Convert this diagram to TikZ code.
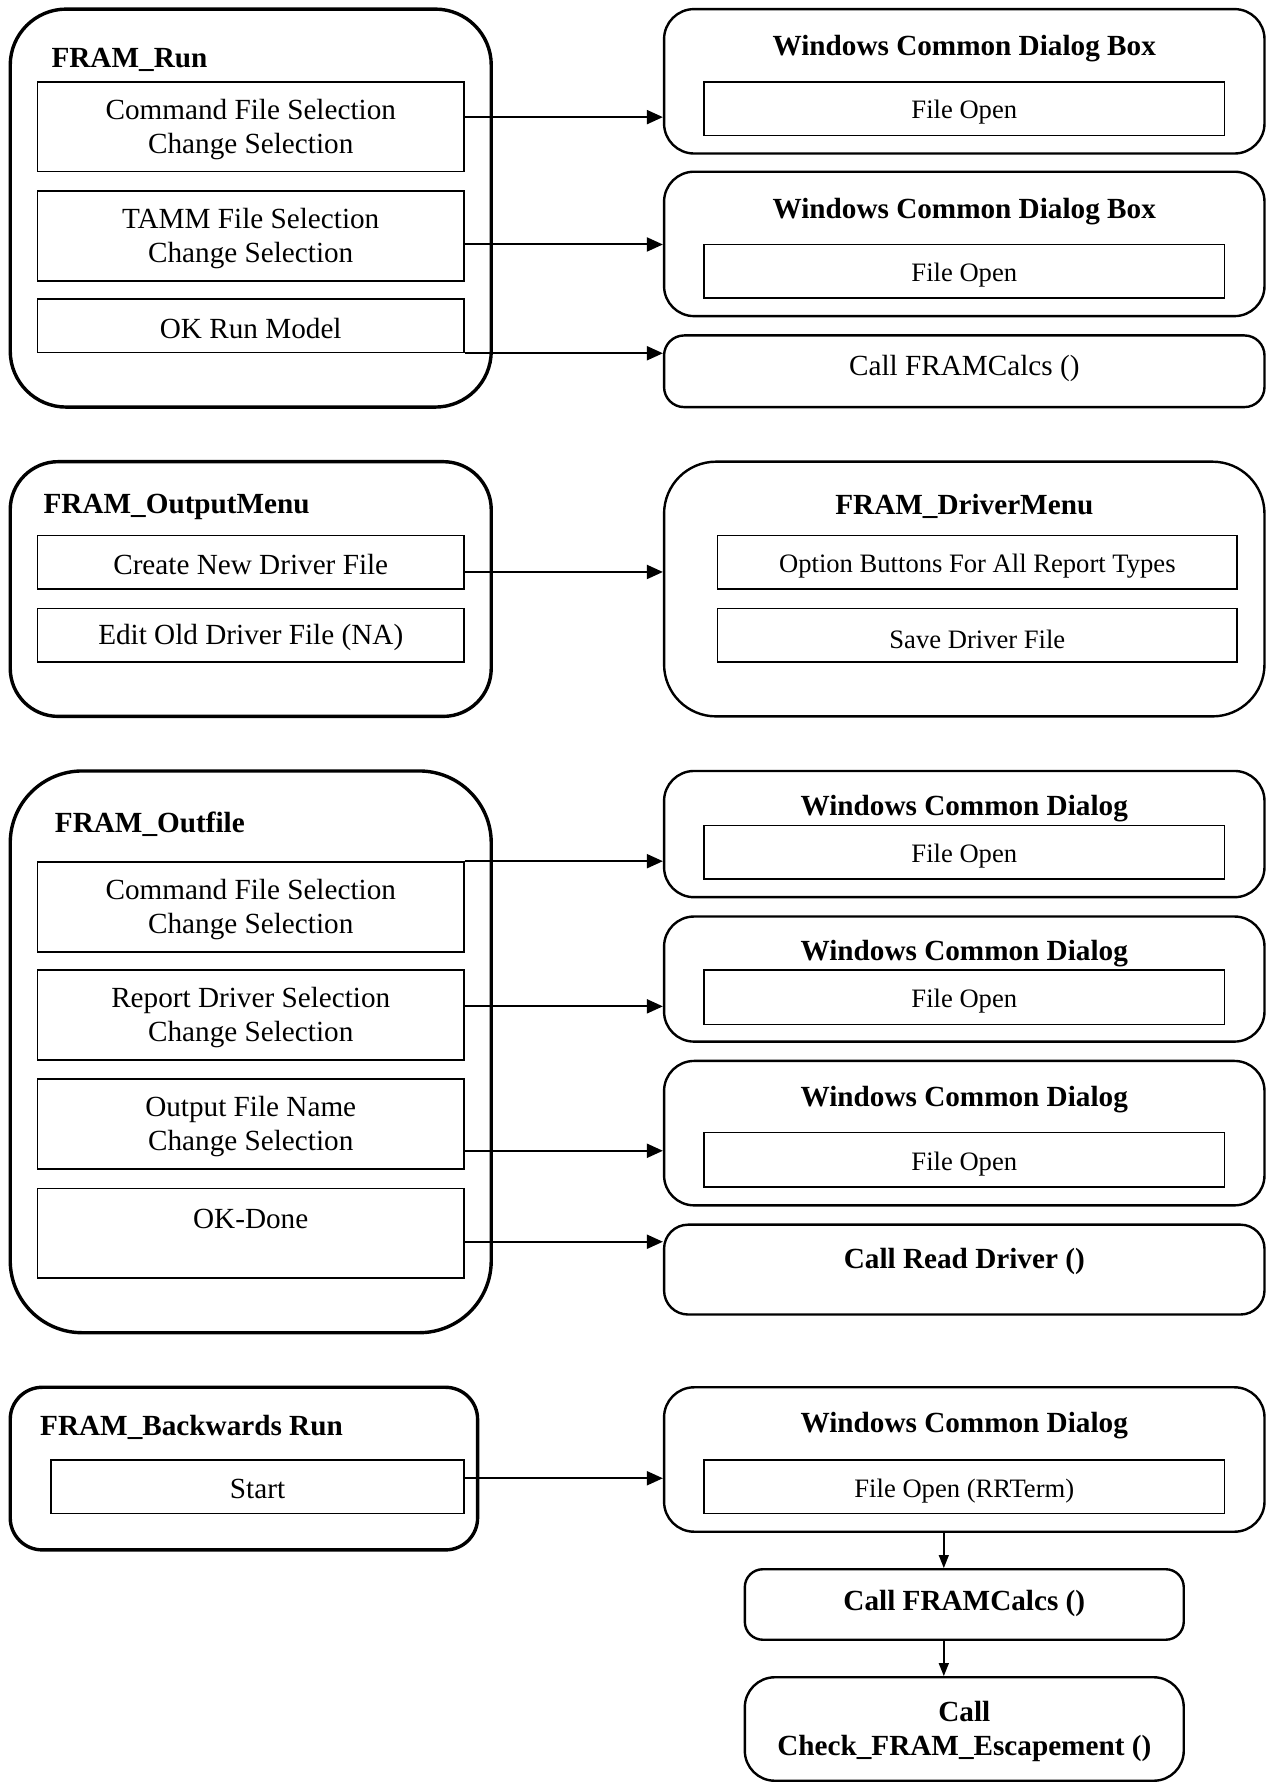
\documentclass[tikz,border=0pt]{standalone}
\usepackage{fontspec}
\setmainfont{Liberation Serif}
\usetikzlibrary{arrows.meta,fit}
\tikzset{
  x=0.5685pt, y=-0.5685pt,
  outerL/.style={draw, line width=1.7pt, rounded corners=#1, inner sep=0pt},
  outerR/.style={draw, line width=1.2pt, rounded corners=#1, inner sep=0pt},
  inbox/.style={draw, line width=0.75pt, inner sep=0pt},
  ttl/.style={inner sep=0pt, yshift=-1.7pt, font=\fontsize{14.6}{17}\selectfont\bfseries, align=center},
  txt/.style={inner sep=0pt, yshift=-1.2pt, font=\fontsize{14.6}{17}\selectfont, align=center},
  txts/.style={inner sep=0pt, yshift=-2pt, font=\fontsize{13.3}{16}\selectfont, align=center},
  arr/.style={line width=1pt, -{Triangle[length=8pt,width=7pt]}},
  arrs/.style={line width=0.75pt, -{Triangle[length=6.5pt,width=5pt]}}
}
\begin{document}
\begin{tikzpicture}
\useasboundingbox (0,0) rectangle (1117,1568);
% ---------- Section 1 ----------
\node[outerL=28pt, fit={(9,8)(432,358)}] (run) {};
\node[ttl, anchor=west] (runT) at (45,50) {FRAM\_Run};
\node[inbox, fit={(33,72)(408,151)}] (r1) {};
\node[txt] (r1t) at (r1.center) {Command File Selection\\Change Selection};
\node[inbox, fit={(33,168)(408,247)}] (r2) {};
\node[txt] (r2t) at (r2.center) {TAMM File Selection\\Change Selection};
\node[inbox, fit={(33,263)(408,310)}] (r3) {};
\node[txt] (r3t) at (r3.center) {OK Run Model};
\node[outerR=15pt, fit={(584,8)(1112,135)}] (w1) {};
\node[ttl] (w1T) at (848,40) {Windows Common Dialog Box};
\node[inbox, fit={(619,72)(1077,119)}] (w1f) {};
\node[txts] (w1ft) at (w1f.center) {File Open};
\node[outerR=15pt, fit={(584,151)(1112,278)}] (w2) {};
\node[ttl] (w2T) at (848,183) {Windows Common Dialog Box};
\node[inbox, fit={(619,215)(1077,262)}] (w2f) {};
\node[txts] (w2ft) at (w2f.center) {File Open};
\node[outerR=10pt, fit={(584,295)(1112,358)}] (c1) {};
\node[txt] (c1t) at (848,322) {Call FRAMCalcs ()};
\draw[arr] (r1.east |- 0,103) -- (w1.west |- 0,103);
\draw[arr] (r2.east |- 0,215) -- (w2.west |- 0,215);
\draw[arr] (r3.south east) -- (r3.south east -| c1.west);
% ---------- Section 2 ----------
\node[outerL=24pt, fit={(9,406)(432,630)}] (om) {};
\node[ttl, anchor=west] (omT) at (38,443) {FRAM\_OutputMenu};
\node[inbox, fit={(33,471)(408,518)}] (om1) {};
\node[txt] (om1t) at (om1.center) {Create New Driver File};
\node[inbox, fit={(33,535)(408,582)}] (om2) {};
\node[txt] (om2t) at (om2.center) {Edit Old Driver File (NA)};
\node[outerR=26pt, fit={(584,406)(1112,630)}] (dm) {};
\node[ttl] (dmT) at (848,442) {FRAM\_DriverMenu};
\node[inbox, fit={(631,471)(1088,518)}] (dm1) {};
\node[txts] (dm1t) at (dm1.center) {Option Buttons For All Report Types};
\node[inbox, fit={(631,535)(1088,582)}] (dm2) {};
\node[txts] (dm2t) at (dm2.center) {Save Driver File};
\draw[arr] (om1.east |- 0,503) -- (dm.west |- 0,503);
% ---------- Section 3 ----------
\node[outerL=36pt, fit={(9,678)(432,1172)}] (of) {};
\node[ttl, anchor=west] (ofT) at (48,722) {FRAM\_Outfile};
\node[inbox, fit={(33,758)(408,837)}] (of1) {};
\node[txt] (of1t) at (of1.center) {Command File Selection\\Change Selection};
\node[inbox, fit={(33,853)(408,932)}] (of2) {};
\node[txt] (of2t) at (of2.center) {Report Driver Selection\\Change Selection};
\node[inbox, fit={(33,949)(408,1028)}] (of3) {};
\node[txt] (of3t) at (of3.center) {Output File Name\\Change Selection};
\node[inbox, fit={(33,1045)(408,1124)}] (of4) {};
\node[txt] (of4t) at (220.5,1070) {OK-Done};
\node[outerR=15pt, fit={(584,678)(1112,789)}] (x1) {};
\node[ttl] (x1T) at (848,708) {Windows Common Dialog};
\node[inbox, fit={(619,726)(1077,773)}] (x1f) {};
\node[txts] (x1ft) at (x1f.center) {File Open};
\node[outerR=15pt, fit={(584,806)(1112,916)}] (x2) {};
\node[ttl] (x2T) at (848,836) {Windows Common Dialog};
\node[inbox, fit={(619,853)(1077,901)}] (x2f) {};
\node[txts] (x2ft) at (x2f.center) {File Open};
\node[outerR=15pt, fit={(584,933)(1112,1060)}] (x3) {};
\node[ttl] (x3T) at (848,964) {Windows Common Dialog};
\node[inbox, fit={(619,996)(1077,1044)}] (x3f) {};
\node[txts] (x3ft) at (x3f.center) {File Open};
\node[outerR=12pt, fit={(584,1077)(1112,1156)}] (x4) {};
\node[ttl] (x4T) at (848,1106) {Call Read Driver ()};
\draw[arr] (of1.north east) -- (of1.north east -| x1.west);
\draw[arr] (of2.east |- 0,885) -- (x2.west |- 0,885);
\draw[arr] (of3.east |- 0,1012) -- (x3.west |- 0,1012);
\draw[arr] (of4.east |- 0,1092) -- (x4.west |- 0,1092);
% ---------- Section 4 ----------
\node[outerL=16pt, fit={(9,1220)(420,1363)}] (br) {};
\node[ttl, anchor=west] (brT) at (35,1252) {FRAM\_Backwards Run};
\node[inbox, fit={(45,1284)(408,1331)}] (br1) {};
\node[txt] (br1t) at (br1.center) {Start};
\node[outerR=15pt, fit={(584,1220)(1112,1347)}] (y1) {};
\node[ttl] (y1T) at (848,1251) {Windows Common Dialog};
\node[inbox, fit={(619,1284)(1077,1331)}] (y1f) {};
\node[txts] (y1ft) at (y1f.center) {File Open (RRTerm)};
\node[outerR=9pt, fit={(655,1380)(1041,1442)}] (y2) {};
\node[ttl] (y2t) at (848,1407) {Call FRAMCalcs ()};
\node[outerR=15pt, fit={(655,1475)(1041,1566)}] (y3) {};
\node[ttl] (y3T) at (848,1519.5) {Call\\Check\_FRAM\_Escapement ()};
\draw[arr] (br1.east |- 0,1300) -- (y1.west |- 0,1300);
\draw[arrs] (y1.south -| 830,0) -- (y2.north -| 830,0);
\draw[arrs] (y2.south -| 830,0) -- (y3.north -| 830,0);
\end{tikzpicture}
\end{document}
